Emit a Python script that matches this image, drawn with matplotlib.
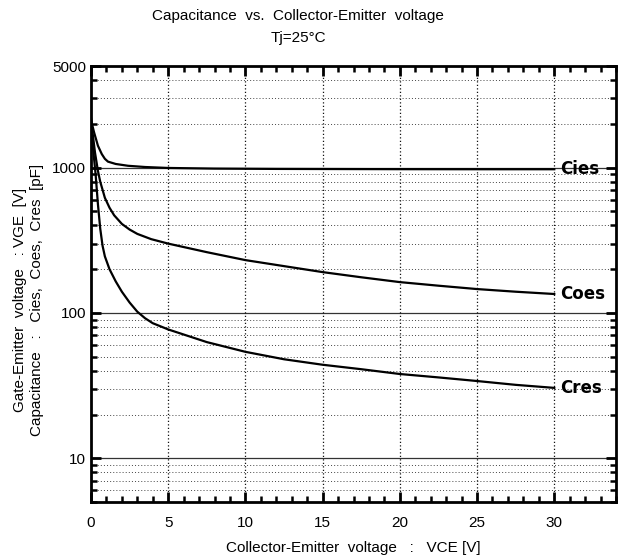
import matplotlib
matplotlib.use('Agg')
from matplotlib import pyplot as plt
from matplotlib.ticker import FixedLocator, NullFormatter, FixedFormatter

plt.rcParams['font.family'] = ['Liberation Sans', 'DejaVu Sans']

# values (VCE [V] -> capacitance [pF])
cies_v = [0, 0.05, 0.2, 0.45, 0.7, 0.9, 1.1, 1.6, 2.4, 3.5, 5, 8, 12, 16, 20, 25, 30]
cies_c = [2200, 2030, 1750, 1415, 1240, 1150, 1100, 1060, 1030, 1010, 995, 985, 980, 978, 976, 975, 975]

coes_v = [0, 0.1, 0.26, 0.45, 0.6, 0.9, 1.2, 1.5, 2, 2.5, 3, 3.9, 5, 7.5, 10, 12.5, 15, 17.5, 20, 22.5, 25, 27.5, 30]
coes_c = [2100, 1750, 1270, 950, 800, 620, 530, 470, 410, 375, 350, 322, 300, 262, 231, 210, 191, 176, 163, 154, 146, 140, 135]

cres_v = [0, 0.06, 0.2, 0.3, 0.45, 0.6, 0.75, 0.9, 1.2, 1.6, 2, 2.5, 3, 3.5, 4, 5, 7.5, 10, 12.5, 15, 17.5, 20, 22.5, 25, 27.5, 30]
cres_c = [1900, 1657, 1150, 900, 560, 380, 290, 245, 200, 165, 140, 118, 102, 92, 85, 77, 63, 54, 48, 44, 41, 38, 36, 34, 32, 30.5]

curve_names = ['Cies', 'Coes', 'Cres']
x_ticks = [0, 5, 10, 15, 20, 25, 30]
y_ticks = [10, 100, 1000, 5000]
y_tick_labels = ['10', '100', '1000', '5000']

fig = plt.figure(figsize=(6.21, 5.60), dpi=100)
ax = fig.add_axes([0.1465, 0.1036, 0.8455, 0.7784])

ax.set_yscale('log')
ax.set_xlim(0, 34)
ax.set_ylim(5, 5000)

# grid: solid at decades, dotted elsewhere
minor_y = [d * m for d in [1, 10, 100, 1000] for m in range(2, 10) if 5 <= d * m <= 4000]
for yv in [10, 100, 1000]:
    ax.axhline(yv, color='#333333', lw=0.9, zorder=1)
for yv in minor_y:
    ax.axhline(yv, color='#444444', lw=0.7, ls=(0, (1, 2.2)), zorder=1)
for xv in x_ticks[1:]:
    ax.axvline(xv, color='#111111', lw=0.9, ls=(0, (1, 1.8)), zorder=1)

ax.plot(cies_v, cies_c, color='black', lw=1.6, zorder=3)
ax.plot(coes_v, coes_c, color='black', lw=1.6, zorder=3)
ax.plot(cres_v, cres_c, color='black', lw=1.6, zorder=3)

for name, vals in zip(curve_names, [cies_c, coes_c, cres_c]):
    ax.text(30.35, vals[-1], name, fontsize=12, fontweight='bold',
            family='DejaVu Sans', va='center', ha='left', zorder=4)

ax.xaxis.set_major_locator(FixedLocator(x_ticks))
ax.xaxis.set_minor_locator(FixedLocator([v for v in range(0, 35) if v % 5 != 0]))
ax.yaxis.set_major_locator(FixedLocator(y_ticks))
ax.yaxis.set_major_formatter(FixedFormatter(y_tick_labels))
ax.yaxis.set_minor_locator(FixedLocator(minor_y))
ax.yaxis.set_minor_formatter(NullFormatter())

ax.tick_params(which='both', direction='in', top=True, right=True, color='black', labelsize=11)
ax.tick_params(which='major', length=7, width=2)
ax.tick_params(which='minor', length=4.5, width=1.8)
ax.tick_params(axis='x', pad=10)
for s in ax.spines.values():
    s.set_linewidth(2)

fig.text(0.48, 0.972, 'Capacitance  vs.  Collector-Emitter  voltage', ha='center', va='center', fontsize=11)
fig.text(0.48, 0.932, 'Tj=25°C', ha='center', va='center', fontsize=11)
ax.set_xlabel('Collector-Emitter  voltage   :   VCE [V]', fontsize=11, labelpad=8)
fig.text(0.032, 0.465, 'Gate-Emitter  voltage   : VGE  [V]', rotation=90, ha='center', va='center', fontsize=11)
fig.text(0.060, 0.465, 'Capacitance   :   Cies,  Coes,  Cres  [pF]', rotation=90, ha='center', va='center', fontsize=11)

fig.savefig('out.png', dpi=100)
